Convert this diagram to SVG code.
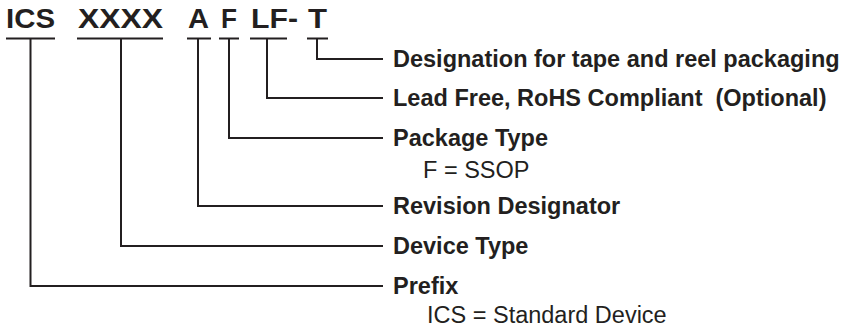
<svg xmlns="http://www.w3.org/2000/svg" width="846" height="327" viewBox="0 0 846 327">
  <style>
    .code { font-family: "Liberation Sans", Arial, Helvetica, sans-serif; font-weight: bold; font-size: 27px; fill: #231f20; }
    .lbl { font-family: "Liberation Sans", Arial, Helvetica, sans-serif; font-weight: bold; font-size: 23.5px; fill: #231f20; }
    .sub { font-family: "Liberation Sans", Arial, Helvetica, sans-serif; font-size: 23.5px; fill: #231f20; }
    .ul { stroke: #231f20; stroke-width: 2; fill: none; }
    .conn { stroke: #231f20; stroke-width: 2; fill: none; }
  </style>
  <rect width="846" height="327" fill="#ffffff"/>

  <g id="code-ics">
    <text class="code" x="6" y="28" textLength="49" lengthAdjust="spacingAndGlyphs">ICS</text>
    <line class="ul" x1="6" y1="38.5" x2="55" y2="38.5"/>
  </g>
  <g id="code-xxxx">
    <text class="code" x="78" y="28" textLength="85" lengthAdjust="spacingAndGlyphs">XXXX</text>
    <line class="ul" x1="77" y1="38.5" x2="163" y2="38.5"/>
  </g>
  <g id="code-a">
    <text class="code" x="188" y="28" textLength="21" lengthAdjust="spacingAndGlyphs">A</text>
    <line class="ul" x1="187" y1="38.5" x2="211" y2="38.5"/>
  </g>
  <g id="code-f">
    <text class="code" x="221" y="28" textLength="16" lengthAdjust="spacingAndGlyphs">F</text>
    <line class="ul" x1="219" y1="38.5" x2="239" y2="38.5"/>
  </g>
  <g id="code-lf">
    <text class="code" x="251" y="28" textLength="47" lengthAdjust="spacingAndGlyphs">LF-</text>
    <line class="ul" x1="250" y1="38.5" x2="287" y2="38.5"/>
  </g>
  <g id="code-t">
    <text class="code" x="308" y="28" textLength="19" lengthAdjust="spacingAndGlyphs">T</text>
    <line class="ul" x1="307" y1="38.5" x2="328" y2="38.5"/>
  </g>

  <g id="connectors">
    <path class="conn" d="M317,38.5 V59 H383"/>
    <path class="conn" d="M267,38.5 V98 H383"/>
    <path class="conn" d="M229,38.5 V138 H383"/>
    <path class="conn" d="M198,38.5 V206 H383"/>
    <path class="conn" d="M121,38.5 V246 H383"/>
    <path class="conn" d="M30.5,38.5 V286 H383"/>
  </g>

  <g id="label-tape">
    <text class="lbl" x="393" y="67">Designation for tape and reel packaging</text>
  </g>
  <g id="label-leadfree">
    <text class="lbl" x="393" y="106" xml:space="preserve">Lead Free, RoHS Compliant &#160;(Optional)</text>
  </g>
  <g id="label-package">
    <text class="lbl" x="393" y="146">Package Type</text>
    <text class="sub" x="423" y="178">F = SSOP</text>
  </g>
  <g id="label-revision">
    <text class="lbl" x="393" y="214">Revision Designator</text>
  </g>
  <g id="label-device">
    <text class="lbl" x="393" y="254">Device Type</text>
  </g>
  <g id="label-prefix">
    <text class="lbl" x="393" y="294">Prefix</text>
    <text class="sub" x="427" y="323">ICS = Standard Device</text>
  </g>
</svg>
